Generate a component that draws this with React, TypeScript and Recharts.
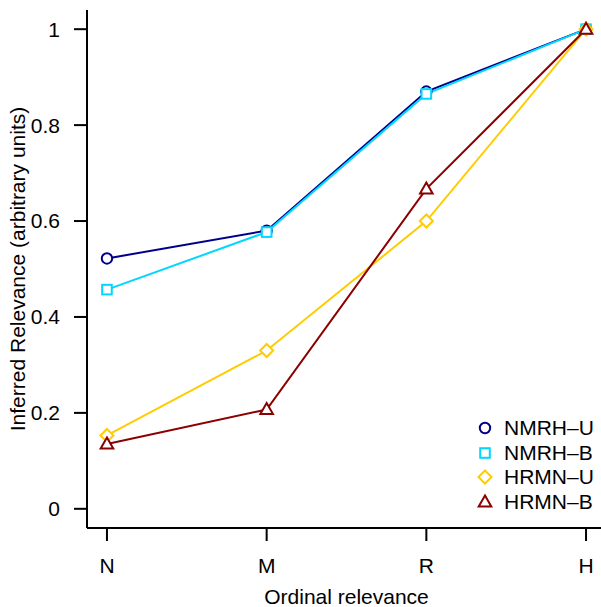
import { LineChart, Line, XAxis, YAxis } from "recharts";

const categories = ["N", "M", "R", "H"];
const nmrhU = [0.522, 0.58, 0.87, 1.0];
const nmrhB = [0.457, 0.577, 0.865, 1.0];
const hrmnU = [0.153, 0.33, 0.6, 1.0];
const hrmnB = [0.135, 0.207, 0.667, 1.0];
const yTicks = [0, 0.2, 0.4, 0.6, 0.8, 1];

const data = categories.map((c, i) => ({
  x: i,
  label: c,
  nmrhU: nmrhU[i],
  nmrhB: nmrhB[i],
  hrmnU: hrmnU[i],
  hrmnB: hrmnB[i],
}));

const series = [
  { key: "nmrhU", name: "NMRH\u2013U", color: "#00008B", shape: "circle" },
  { key: "nmrhB", name: "NMRH\u2013B", color: "#00D7FF", shape: "square" },
  { key: "hrmnU", name: "HRMN\u2013U", color: "#FFCC00", shape: "diamond" },
  { key: "hrmnB", name: "HRMN\u2013B", color: "#8B0000", shape: "triangle" },
];

const FONT = "'Liberation Sans', Arial, sans-serif";
const FS = 21;

function Marker({ cx, cy, shape, color }: { cx: number; cy: number; shape: string; color: string }) {
  const common = { fill: "#fff", stroke: color, strokeWidth: 2 };
  if (shape === "circle") return <circle cx={cx} cy={cy} r={5.2} {...common} />;
  if (shape === "square") return <rect x={cx - 4.8} y={cy - 4.8} width={9.6} height={9.6} {...common} />;
  if (shape === "diamond")
    return <polygon points={`${cx},${cy - 6.5} ${cx + 6.5},${cy} ${cx},${cy + 6.5} ${cx - 6.5},${cy}`} {...common} />;
  return <polygon points={`${cx},${cy - 6.5} ${cx + 6.3},${cy + 4.5} ${cx - 6.3},${cy + 4.5}`} {...common} />;
}

function LegendBox() {
  return (
    <div style={{ position: "absolute", left: 475, top: 416, fontFamily: FONT, fontSize: FS, color: "#000", lineHeight: "24.5px" }}>
      {series.map((s) => (
        <div key={s.key} style={{ display: "flex", alignItems: "center", height: 24.5 }}>
          <svg width={20} height={20} style={{ marginRight: 9 }}>
            <Marker cx={10} cy={10} shape={s.shape} color={s.color} />
          </svg>
          <span>{s.name}</span>
        </div>
      ))}
    </div>
  );
}

export default function App() {
  return (
    <div style={{ position: "absolute", left: 0, top: 0, width: 601, height: 607, overflow: "hidden", background: "#fff" }}>
      <style>{`.recharts-text { font-family: ${FONT}; font-size: ${FS}px; fill: #000; }`}</style>
      <LineChart width={606} height={607} data={data} margin={{ top: 10, right: 0, bottom: 0, left: 0 }}>
        <XAxis
          dataKey="x"
          type="number"
          domain={[-0.125, 3.125]}
          ticks={[0, 1, 2, 3]}
          tickFormatter={(v: number) => categories[v]}
          height={79}
          stroke="#000"
          strokeWidth={2}
          tickSize={13}
          tickMargin={17}
          tick={{ fill: "#000", fontSize: FS, fontFamily: FONT }}
          label={{ value: "Ordinal relevance", position: "insideBottom", offset: 3, fill: "#000", fontSize: FS, fontFamily: FONT }}
        />
        <XAxis xAxisId="top" dataKey="x" type="number" domain={[-0.125, 3.125]} orientation="top" height={0} tick={false} tickLine={false} stroke="#000" strokeWidth={2} />
        <YAxis
          type="number"
          domain={[-0.04, 1.04]}
          ticks={yTicks}
          width={87}
          stroke="#000"
          strokeWidth={2}
          tickSize={13}
          tickMargin={14}
          tickFormatter={(v: number) => String(v)}
          tick={{ fill: "#000", fontSize: FS, fontFamily: FONT }}
          label={{ value: "Inferred Relevance (arbitrary units)", angle: -90, position: "insideLeft", offset: 18, fill: "#000", fontSize: FS, fontFamily: FONT, style: { textAnchor: "middle" } }}
        />
        {series.map((s) => (
          <Line
            key={s.key}
            dataKey={s.key}
            name={s.name}
            type="linear"
            stroke={s.color}
            strokeWidth={2}
            isAnimationActive={false}
            dot={(p: any) => <Marker key={`${s.key}-${p.index}`} cx={p.cx} cy={p.cy} shape={s.shape} color={s.color} />}
            activeDot={false}
          />
        ))}
      </LineChart>
      <LegendBox />
    </div>
  );
}
